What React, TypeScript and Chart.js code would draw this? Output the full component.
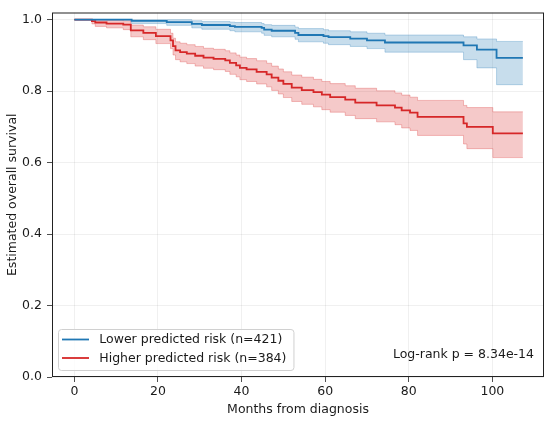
import React, { useEffect, useRef } from 'react'
import { Chart, registerables } from 'chart.js'

Chart.register(...registerables)

const FONT = '"DejaVu Sans", sans-serif'
const TEXT = '#1a1a1a'
const BLUE = '#1f77b4'
const RED = '#d62728'

const xTicks = [0, 20, 40, 60, 80, 100]
const yTicks = [0, 0.2, 0.4, 0.6, 0.8, 1.0]

const seriesLabels = ['Lower predicted risk (n=421)', 'Higher predicted risk (n=384)']
const pValueText = 'Log-rank p = 8.34e-14'

// Lower predicted risk group (step times in months, KM estimate, 95% band)
const lowTimes = [0, 13.7, 22.1, 28.1, 30.5, 37.2, 38.4, 44.8, 45.4, 47.2, 52.8, 53.6, 59.6, 60.8, 66.0, 70.0, 74.3, 93.1, 96.3, 101.0, 107.3]
const lowSurv = [1.0, 0.9965, 0.993, 0.988, 0.985, 0.982, 0.98, 0.977, 0.972, 0.969, 0.963, 0.957, 0.954, 0.951, 0.947, 0.942, 0.936, 0.928, 0.916, 0.893, 0.893]
const lowLower = [1.0, 0.989, 0.984, 0.977, 0.973, 0.969, 0.966, 0.962, 0.956, 0.952, 0.945, 0.938, 0.934, 0.93, 0.925, 0.919, 0.909, 0.888, 0.865, 0.818, 0.818]
const lowUpper = [1.0, 1.0, 1.0, 0.997, 0.995, 0.993, 0.992, 0.989, 0.986, 0.984, 0.979, 0.975, 0.972, 0.969, 0.966, 0.962, 0.957, 0.952, 0.946, 0.939, 0.939]

// Higher predicted risk group
const highTimes = [0, 4.2, 5.0, 7.7, 11.7, 13.5, 16.5, 19.5, 23.0, 23.6, 24.2, 25.3, 26.9, 28.9, 30.9, 33.3, 36.1, 37.2, 38.7, 39.6, 41.2, 43.6, 46.0, 47.2, 48.8, 50.0, 52.0, 54.4, 57.2, 59.2, 61.2, 64.8, 67.2, 72.3, 76.7, 78.3, 80.3, 82.1, 93.1, 93.9, 100.1, 107.3]
const highSurv = [1.0, 0.996, 0.992, 0.989, 0.986, 0.97, 0.963, 0.954, 0.942, 0.926, 0.914, 0.909, 0.905, 0.899, 0.894, 0.89, 0.886, 0.879, 0.872, 0.865, 0.861, 0.854, 0.847, 0.838, 0.829, 0.82, 0.81, 0.803, 0.797, 0.79, 0.783, 0.776, 0.768, 0.76, 0.754, 0.746, 0.74, 0.728, 0.71, 0.7, 0.682, 0.682]
const highLower = [1.0, 0.988, 0.981, 0.977, 0.972, 0.952, 0.944, 0.933, 0.919, 0.901, 0.888, 0.882, 0.877, 0.87, 0.864, 0.86, 0.855, 0.847, 0.84, 0.832, 0.827, 0.82, 0.812, 0.802, 0.792, 0.782, 0.771, 0.763, 0.756, 0.748, 0.741, 0.732, 0.723, 0.714, 0.706, 0.697, 0.69, 0.676, 0.652, 0.639, 0.614, 0.614]
const highUpper = [1.0, 1.0, 1.0, 0.999, 0.997, 0.985, 0.98, 0.973, 0.962, 0.948, 0.938, 0.934, 0.93, 0.925, 0.92, 0.917, 0.913, 0.907, 0.901, 0.895, 0.891, 0.885, 0.878, 0.87, 0.862, 0.854, 0.845, 0.839, 0.833, 0.827, 0.821, 0.815, 0.808, 0.801, 0.795, 0.789, 0.783, 0.774, 0.76, 0.754, 0.742, 0.742]

const toPoints = (xs: number[], ys: number[]) => xs.map((x, i) => ({ x, y: ys[i] }))

const frameAndLegend = {
  id: 'frameAndLegend',
  afterDraw(chart: any) {
    const { ctx, chartArea: ca } = chart
    ctx.save()
    // axes frame on all four sides
    ctx.strokeStyle = '#222'
    ctx.lineWidth = 1
    ctx.strokeRect(ca.left + 0.5, ca.top + 0.5, ca.right - ca.left - 1, ca.bottom - ca.top - 1)

    // legend box
    ctx.font = `12.5px ${FONT}`
    const widths = seriesLabels.map((l) => ctx.measureText(l).width)
    const bx = ca.left + 6
    const by = ca.bottom - 48
    const bw = 41.3 + Math.max(...widths) + 7
    const bh = 41
    ctx.beginPath()
    ctx.roundRect(bx + 0.5, by + 0.5, bw, bh, 3)
    ctx.fillStyle = 'rgba(255,255,255,0.8)'
    ctx.fill()
    ctx.strokeStyle = '#d0d0d0'
    ctx.stroke()

    const colors = [BLUE, RED]
    const rows = [by + 10.5, by + 29]
    ctx.textBaseline = 'middle'
    ctx.textAlign = 'left'
    seriesLabels.forEach((label, i) => {
      ctx.strokeStyle = colors[i]
      ctx.lineWidth = 1.8
      ctx.beginPath()
      ctx.moveTo(bx + 4, rows[i])
      ctx.lineTo(bx + 31, rows[i])
      ctx.stroke()
      ctx.fillStyle = TEXT
      ctx.fillText(label, bx + 41.3, rows[i] + 0.5)
    })

    // log-rank annotation
    ctx.textAlign = 'right'
    ctx.fillText(pValueText, ca.right - 10, ca.bottom - 22)
    ctx.restore()
  },
}

const KaplanMeierChart = () => {
  const canvasRef = useRef<HTMLCanvasElement | null>(null)

  useEffect(() => {
    if (!canvasRef.current) return
    const font = { family: FONT, size: 12.5 }
    const band = (data: any, color: string, fill: any) => ({
      data,
      stepped: true,
      borderColor: color,
      borderWidth: 1,
      backgroundColor: color,
      pointRadius: 0,
      fill,
      order: 2,
    })
    const chart = new Chart(canvasRef.current, {
      type: 'line',
      data: {
        datasets: [
          band(toPoints(lowTimes, lowLower), 'rgba(31,119,180,0.28)', false),
          { ...band(toPoints(lowTimes, lowUpper), 'rgba(31,119,180,0.28)', '-1'), backgroundColor: 'rgba(31,119,180,0.25)' },
          band(toPoints(highTimes, highLower), 'rgba(214,39,40,0.28)', false),
          { ...band(toPoints(highTimes, highUpper), 'rgba(214,39,40,0.28)', '-1'), backgroundColor: 'rgba(214,39,40,0.25)' },
          {
            label: seriesLabels[0],
            data: toPoints(lowTimes, lowSurv),
            stepped: true,
            borderColor: BLUE,
            borderWidth: 1.8,
            pointRadius: 0,
            fill: false,
            order: 0,
          },
          {
            label: seriesLabels[1],
            data: toPoints(highTimes, highSurv),
            stepped: true,
            borderColor: RED,
            borderWidth: 1.8,
            pointRadius: 0,
            fill: false,
            order: 0,
          },
        ],
      },
      options: {
        responsive: false,
        animation: false,
        devicePixelRatio: 1,
        layout: { padding: { top: 6, right: 6, left: 0, bottom: 0 } },
        plugins: {
          legend: { display: false },
          tooltip: { enabled: false },
        },
        scales: {
          x: {
            type: 'linear',
            min: -5.35,
            max: 112.35,
            afterBuildTicks: (s: any) => {
              s.ticks = xTicks.map((v) => ({ value: v }))
            },
            afterFit: (s: any) => {
              s.height = 44
            },
            ticks: { font, color: TEXT, padding: 2, maxRotation: 0, autoSkip: false, callback: (v: any) => String(v) },
            grid: { color: 'rgba(0,0,0,0.08)', tickColor: '#222', tickLength: 5, lineWidth: 0.8 },
            border: { display: false },
            title: { display: true, text: 'Months from diagnosis', font, color: TEXT, padding: { top: 0, bottom: 3.5 } },
          },
          y: {
            type: 'linear',
            min: 0,
            max: 1.02,
            afterBuildTicks: (s: any) => {
              s.ticks = yTicks.map((v) => ({ value: v }))
            },
            afterFit: (s: any) => {
              s.width = 52
            },
            ticks: { font, color: TEXT, padding: 5, autoSkip: false, callback: (v: any) => Number(v).toFixed(1) },
            grid: { color: 'rgba(0,0,0,0.08)', tickColor: '#222', tickLength: 5, lineWidth: 0.8 },
            border: { display: false },
            title: { display: true, text: 'Estimated overall survival', font, color: TEXT, padding: { top: 5.5, bottom: 0 } },
          },
        },
      } as any,
      plugins: [frameAndLegend],
    })
    return () => chart.destroy()
  }, [])

  return (
    <div style={{ position: 'absolute', left: 0, top: 0, width: 550, height: 421, background: '#fff' }}>
      <canvas ref={canvasRef} width={550} height={421} style={{ display: 'block' }} />
    </div>
  )
}

export default function App() {
  return <KaplanMeierChart />
}
